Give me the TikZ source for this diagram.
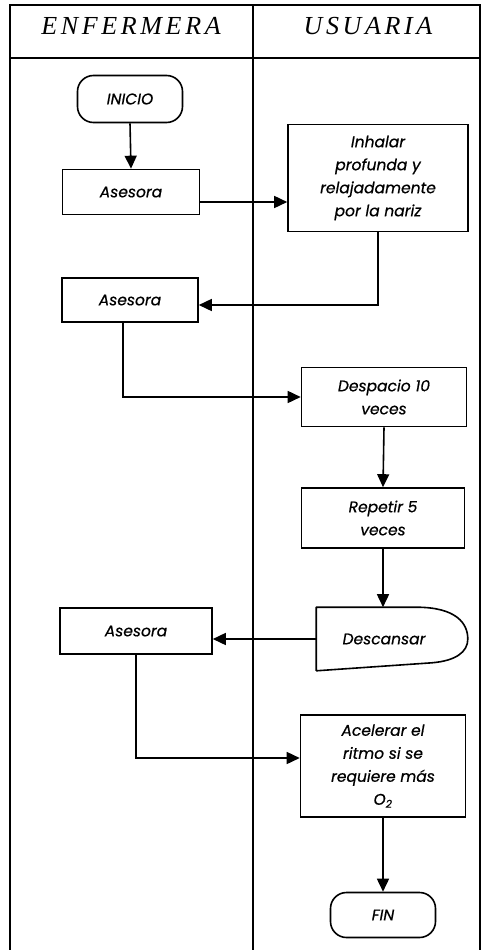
\documentclass[tikz,border=0pt]{standalone}
\usepackage{fontspec}
\usepackage{tikz}
\usetikzlibrary{positioning}
\usetikzlibrary{calc}
\usetikzlibrary{arrows.meta}

\newfontfamily\headfont{Liberation Serif}[LetterSpace=14]
\newfontfamily\boxfont{Poppins}[FakeBold=0.6]

\tikzset{
    frame/.style={line width=1.3pt},
    proc/.style={draw, line width=1.6pt, align=center, inner sep=2pt,
        font=\boxfont\itshape\fontsize{15.5}{23}\selectfont},
    term/.style={proc, rounded corners=16pt},
    flow/.style={line width=1.6pt, -{Triangle[length=13pt,width=12pt]}}
}

\begin{document}
\begin{tikzpicture}[x=1pt, y=-1pt]

    \useasboundingbox (0,0) rectangle (482,950);

    % Lanes
    \draw[frame] (10,950) -- (10,5) -- (480,5) -- (480,950);
    \draw[frame] (10,58) -- (480,58);
    \draw[frame] (253,5) -- (253,950);

    \node[font=\headfont\itshape\fontsize{26}{30}\selectfont] (enf) at (131,26) {ENFERMERA};
    \node[font=\headfont\itshape\fontsize{26}{30}\selectfont] (usu) at (368,26) {USUARIA};

    % Nurse side
    \node[term, minimum width=105pt, minimum height=47pt] (inicio) at (130,99) {INICIO};
    \node[proc, minimum width=137pt, minimum height=45pt] (ases1) at (131,192) {Asesora};
    \node[proc, minimum width=136pt, minimum height=44pt] (ases2) at (130,300) {Asesora};
    \node[proc, minimum width=152pt, minimum height=46pt] (ases3) at (136,631) {Asesora};

    % User side
    \node[proc, minimum width=180pt, minimum height=107pt] (inhalar) at (378,178)
        {Inhalar\\profunda y\\relajadamente\\por la nariz};
    \node[proc, minimum width=165pt, minimum height=59pt] (despacio) at (384,397)
        {Despacio 10\\veces};
    \node[proc, minimum width=163pt, minimum height=60pt] (repetir) at (383,518)
        {Repetir 5\\veces};
    \node[proc, draw=none, minimum width=150pt, minimum height=62pt] (descansar) at (392,639)
        {\hspace*{-16pt}Descansar};
    \node[proc, minimum width=165pt, minimum height=102pt] (acelerar) at (383,766)
        {Acelerar el\\ritmo si se\\requiere más\\O\textsubscript{2}};
    \node[term, minimum width=105pt, minimum height=45pt] (fin) at (383,915) {FIN};

    % Delay shape round Descansar
    \draw[line width=1.6pt, line join=round] (descansar.south west) -- (descansar.north west)
        -- ($(descansar.north west)+(100,0)$)
        .. controls ($(descansar.north east)+(-12,0)$) and ($(descansar.east)+(0,-16)$) .. (descansar.east)
        .. controls ($(descansar.east)+(0,13)$) and ($(descansar.south east)+(-12,-10)$) .. ($(descansar.south east)+(-36,-8)$)
        -- (descansar.south west);

    % Connectors
    \draw[flow] (inicio.south) -- (ases1.north);
    \draw[flow] ([yshift=-10pt]ases1.east) -- ([yshift=-10pt]ases1.east -| inhalar.west);
    \draw[flow] (inhalar.south) |- ([yshift=-5pt]ases2.east);
    \draw[flow] ([xshift=-7pt]ases2.south) |- (despacio.west);
    \draw[flow] (despacio.south) -- (repetir.north);
    \draw[flow] (repetir.south) -- (repetir.south |- descansar.north);
    \draw[flow] (descansar.west) -- (descansar.west -| ases3.east);
    \draw[flow] (ases3.south) |- ([yshift=8pt]acelerar.west);
    \draw[flow] (acelerar.south) -- (fin.north);

\end{tikzpicture}
\end{document}
